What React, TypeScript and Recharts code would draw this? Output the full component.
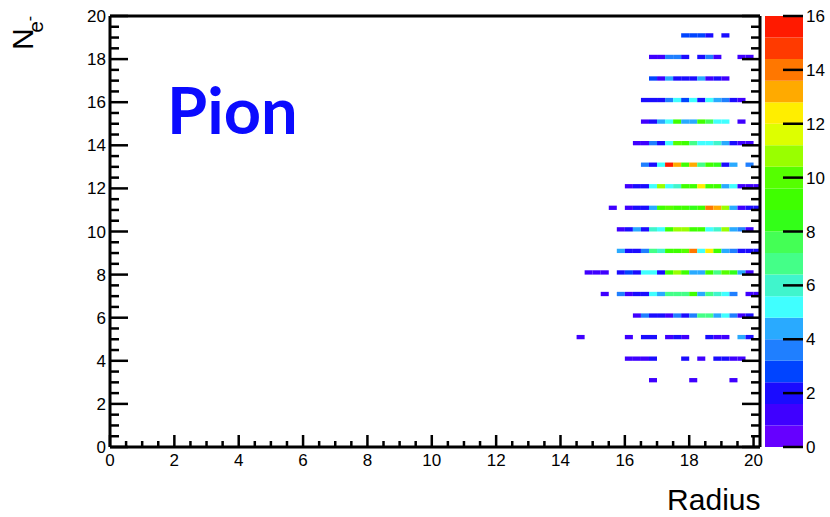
import { ScatterChart, Scatter, XAxis, YAxis, ReferenceArea } from "recharts";

// histogram binning (radius bins 0.25 wide, N_e rows 0.2 tall)
const RADIUS_BIN = 0.25;
const NE_BIN = 0.2;

const radiusBins = [14.5, 14.75, 15, 15.25, 15.5, 15.75, 16, 16.25, 16.5, 16.75, 17, 17.25, 17.5, 17.75, 18, 18.25, 18.5, 18.75, 19, 19.25, 19.5, 19.75, 20];
const electronRows = [3, 4, 5, 6, 7, 8, 9, 10, 11, 12, 13, 14, 15, 16, 17, 18, 19];

// entries per (row, radius bin)
const entries = [
  [0, 0, 0, 0, 0, 0, 0, 0, 0, 1, 0, 0, 0, 0, 1, 0, 0, 0, 0, 1, 0, 0, 0],
  [0, 0, 0, 0, 0, 0, 1, 1, 1, 2, 0, 0, 0, 2, 0, 1, 0, 2, 2, 1, 1, 0, 0],
  [1, 0, 0, 0, 0, 0, 1, 0, 2, 2, 0, 1, 2, 1, 0, 0, 2, 1, 1, 0, 4, 2, 0],
  [0, 0, 0, 0, 0, 0, 0, 1, 3.5, 2, 2, 1, 3.5, 2, 3.5, 7, 7, 4, 5, 3.5, 1, 2, 0],
  [0, 0, 0, 1, 0, 3.5, 1, 2, 2, 5, 4, 7, 7, 7, 9, 4, 7, 6, 5, 3.5, 0, 1, 1],
  [0, 1, 1, 1, 0, 2, 3, 2, 5, 5, 2, 9, 11, 9, 4, 4, 9, 7, 10, 8, 4, 1, 0],
  [0, 0, 0, 0, 0, 4, 2, 2, 3.5, 7, 6, 9, 9, 10, 14, 5, 12, 9, 4, 3.5, 2, 2, 2],
  [0, 0, 0, 0, 0, 1, 2, 4, 2, 6, 5, 9, 11, 11, 9, 9, 5, 6, 11, 4, 3.5, 1, 0],
  [0, 0, 0, 0, 1, 0, 1, 2, 2, 4, 9, 10, 9, 9, 8, 9, 14, 13, 11, 4, 1, 2, 2],
  [0, 0, 0, 0, 0, 0, 1, 2, 2, 5, 11, 5, 6, 9, 9, 12, 9, 9, 4, 5, 1, 1, 1],
  [0, 0, 0, 0, 0, 0, 0, 0, 3.5, 2, 5, 16, 13, 9, 13, 7, 9, 8, 2, 4, 0, 3.5, 0],
  [0, 0, 0, 0, 0, 0, 0, 1, 1, 3.5, 2, 5, 10, 9, 7, 5, 5, 6, 4, 2, 1, 1, 0],
  [0, 0, 0, 0, 0, 0, 0, 0, 1, 2, 4, 5, 9, 4, 4, 9, 7.5, 5, 5, 0, 1, 0, 0],
  [0, 0, 0, 0, 0, 0, 0, 0, 2, 2, 2, 3.5, 5, 3, 5, 2, 5, 4, 3.5, 2, 1, 0, 0],
  [0, 0, 0, 0, 0, 0, 0, 0, 0, 3, 1, 4, 2, 2, 2, 4, 1, 2, 1, 0, 0, 0, 0],
  [0, 0, 0, 0, 0, 0, 0, 0, 0, 1, 1, 3.5, 3.5, 2, 0, 2, 3.5, 1, 0, 0, 1, 1, 0],
  [0, 0, 0, 0, 0, 0, 0, 0, 0, 0, 0, 0, 0, 3, 3, 3, 2, 0, 2, 0, 0, 0, 0],
];

const axisTicks = [0, 0.5, 1, 1.5, 2, 2.5, 3, 3.5, 4, 4.5, 5, 5.5, 6, 6.5, 7, 7.5, 8, 8.5, 9, 9.5, 10, 10.5, 11, 11.5, 12, 12.5, 13, 13.5, 14, 14.5, 15, 15.5, 16, 16.5, 17, 17.5, 18, 18.5, 19, 19.5, 20];
const paletteTicks = [0, 2, 4, 6, 8, 10, 12, 14, 16];
const contourLevels = [0, 0.8, 1.6, 2.4, 3.2, 4, 4.8, 5.6, 6.4, 7.2, 8, 8.8, 9.6, 10.4, 11.2, 12, 12.8, 13.6, 14.4, 15.2, 16];
const palette = [
  "#6600ff", "#3f00ff", "#1a0cff", "#0044ff", "#1f7fff",
  "#29aaff", "#40ffff", "#40f5cc", "#44ff88", "#44ff55",
  "#33ff18", "#3fff00", "#55ff00", "#99ff00", "#ddff00",
  "#ffee00", "#ffaa00", "#ff7700", "#ff3a00", "#ff1a00",
];

const FONT = "'Liberation Sans', Arial, Helvetica, sans-serif";
const TICK_W = 2.5;

function colorFor(v: number) {
  let k = 0;
  while (k < palette.length - 1 && v >= contourLevels[k + 1]) k++;
  return palette[k];
}

const cells = electronRows.flatMap((ne, r) =>
  radiusBins
    .map((rad, c) => ({ x: rad, y: ne, v: entries[r][c] }))
    .filter((d) => d.v > 0)
);

function makeTick(side: "bottom" | "top" | "left" | "right", major: number, minor: number, labels: boolean) {
  return (props: any) => {
    const { x, y, payload } = props;
    const v = payload.value;
    const isMajor = Math.abs(v % 2) < 1e-6;
    const len = isMajor ? major : minor;
    let x2 = x;
    let y2 = y;
    if (side === "bottom") y2 = y - len;
    if (side === "top") y2 = y + len;
    if (side === "left") x2 = x + len;
    if (side === "right") x2 = x - len;
    let label = null;
    if (labels && isMajor) {
      if (side === "bottom")
        label = <text x={x} y={y + 19} textAnchor="middle" fontSize={17} fontFamily={FONT} fill="#000">{v}</text>;
      if (side === "left")
        label = <text x={x - 4} y={y + 6} textAnchor="end" fontSize={17} fontFamily={FONT} fill="#000">{v}</text>;
      if (side === "right")
        label = <text x={x + 3} y={y + 6} textAnchor="start" fontSize={17} fontFamily={FONT} fill="#000">{v}</text>;
    }
    return (
      <g>
        <line x1={x} y1={y} x2={x2} y2={y2} stroke="#000" strokeWidth={TICK_W} />
        {label}
      </g>
    );
  };
}

const frame = { stroke: "#000", strokeWidth: 3 };

export default function App() {
  return (
    <div style={{ position: "absolute", left: 0, top: 0, width: 830, height: 517, background: "#fff" }}>
      <ScatterChart width={830} height={517} margin={{ top: 10, right: 60, bottom: 40, left: 50 }}>
        <XAxis xAxisId="bottom" type="number" dataKey="x" domain={[0, 20.2]} allowDataOverflow ticks={axisTicks} interval={0}
          height={30} tickSize={0} tickMargin={0} tickLine={false} axisLine={frame} tick={makeTick("bottom", 12, 6, true)} />
        <XAxis xAxisId="top" orientation="top" type="number" domain={[0, 20.2]} allowDataOverflow ticks={axisTicks} interval={0}
          height={6} tickSize={0} tickMargin={0} tickLine={false} axisLine={frame} tick={makeTick("top", 12, 6, false)} />
        <YAxis yAxisId="left" type="number" dataKey="y" domain={[0, 20]} allowDataOverflow ticks={axisTicks} interval={0}
          width={60} tickSize={0} tickMargin={0} tickLine={false} axisLine={frame} tick={makeTick("left", 18, 9, true)} />
        <YAxis yAxisId="right" orientation="right" type="number" domain={[0, 20]} allowDataOverflow ticks={axisTicks} interval={0}
          width={10} tickSize={0} tickMargin={0} tickLine={false} axisLine={frame} tick={makeTick("right", 18, 9, false)} />
        {cells.map((d, i) => (
          <ReferenceArea key={i} xAxisId="bottom" yAxisId="left"
            x1={d.x} x2={d.x + RADIUS_BIN} y1={d.y} y2={d.y + NE_BIN}
            fill={colorFor(d.v)} fillOpacity={1} stroke="none" ifOverflow="hidden" />
        ))}
        <Scatter xAxisId="bottom" yAxisId="left" data={cells} shape={() => <g />} isAnimationActive={false} />
      </ScatterChart>

      <div style={{ position: "absolute", left: 765, top: 0 }}>
        <ScatterChart width={65} height={517} margin={{ top: 16, right: 0, bottom: 70, left: 0 }}>
          <XAxis type="number" dataKey="x" domain={[0, 1]} hide height={0} />
          <YAxis type="number" dataKey="y" orientation="right" domain={[0, 16]} allowDataOverflow ticks={paletteTicks} interval={0}
            width={27} tickSize={0} tickMargin={0} tickLine={false} axisLine={false} tick={makeTick("right", 20, 20, true)} />
          {palette.map((c, k) => (
            <ReferenceArea key={k} x1={0} x2={1} y1={contourLevels[k]} y2={contourLevels[k + 1]}
              fill={c} fillOpacity={1} stroke="none" ifOverflow="visible" />
          ))}
          <Scatter data={[{ x: 0.5, y: 8 }]} shape={() => <g />} isAnimationActive={false} />
        </ScatterChart>
      </div>

      <svg width={830} height={517} style={{ position: "absolute", left: 0, top: 0, pointerEvents: "none" }}>
        <text x={167} y={133.5} fontFamily="Lato, 'Open Sans', sans-serif" fontWeight={700} fontSize={65} fill="#0b0bff">Pion</text>
        <text x={760.5} y={510} textAnchor="end" fontFamily={FONT} fontSize={30} fill="#000">Radius</text>
        <text transform="translate(33,50) rotate(-90)" fontFamily={FONT} fontSize={30} fill="#000">
          N<tspan dx={-4.5} dy={10} fontSize={21}>e</tspan><tspan dy={-8.5} fontSize={16}>-</tspan>
        </text>
      </svg>
    </div>
  );
}
